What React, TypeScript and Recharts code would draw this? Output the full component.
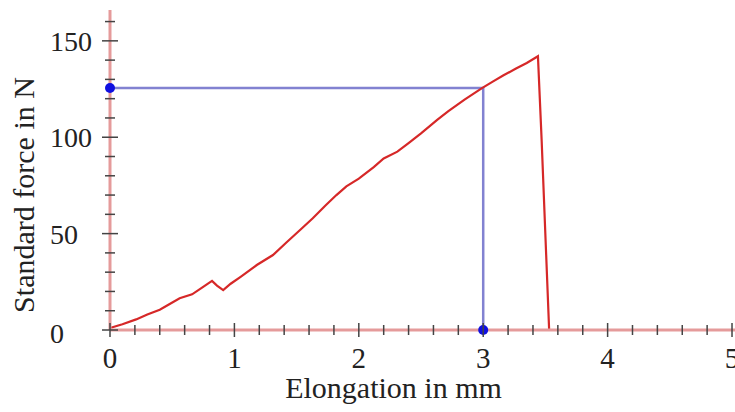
import {
  ComposedChart,
  Line,
  Scatter,
  XAxis,
  YAxis,
  ReferenceLine,
  Label,
} from "recharts";

// force / elongation curve
const elongation = [
  0, 0.1, 0.21, 0.3, 0.4, 0.48, 0.56, 0.66, 0.74, 0.82, 0.86, 0.91, 0.97, 1.05,
  1.18, 1.31, 1.42, 1.53, 1.63, 1.73, 1.82, 1.9, 2.0, 2.12, 2.2, 2.31, 2.4, 2.5,
  2.63, 2.72, 2.85, 2.99, 3.08, 3.16, 3.26, 3.35, 3.44, 3.47, 3.53,
];
const force = [
  1, 3, 5.5, 8, 10.5, 13.5, 16.5, 18.5, 22, 25.5, 23, 20.7, 24, 27.6, 33.7,
  38.9, 45.5, 52, 58, 64.5, 70, 74.5, 78.5, 84.5, 89, 92.5, 97, 102, 109, 113.5,
  119.5, 125.5, 129, 132, 135.5, 138.5, 142, 98, 0,
];

// marked reading (blue)
const markX = 3;
const markF = 125.5;

const xTicks = [
  0, 0.2, 0.4, 0.6, 0.8, 1, 1.2, 1.4, 1.6, 1.8, 2, 2.2, 2.4, 2.6, 2.8, 3, 3.2,
  3.4, 3.6, 3.8, 4, 4.2, 4.4, 4.6, 4.8, 5,
];
const yTicks = [
  0, 10, 20, 30, 40, 50, 60, 70, 80, 90, 100, 110, 120, 130, 140, 150, 160,
];
const xLabels = [0, 1, 2, 3, 4, 5];
const yLabels = [0, 50, 100, 150];

const curve = elongation.map((x, i) => ({ x, y: force[i] }));
const guide = [
  { x: 0, y: markF },
  { x: markX, y: markF },
  { x: markX, y: 0 },
];
const markers = [
  { x: 0, y: markF },
  { x: markX, y: 0 },
];

const font = "'Liberation Serif', 'Times New Roman', serif";

const XTick = (props: any) => {
  const { x, y, payload } = props;
  const v = payload.value;
  const major = xLabels.some((l) => Math.abs(l - v) < 1e-6);
  const h = major ? 7 : 5;
  return (
    <g>
      <line x1={x} x2={x} y1={y - h} y2={y + h} stroke="#444" strokeWidth={1.5} />
      {major && (
        <text x={x} y={y + 38} textAnchor="middle" fontFamily={font} fontSize={29} fill="#222">
          {Math.round(v)}
        </text>
      )}
    </g>
  );
};

const YTick = (props: any) => {
  const { x, y, payload } = props;
  const v = payload.value;
  const major = yLabels.includes(v);
  const w = major ? 8 : 5;
  return (
    <g>
      <line x1={x - w} x2={x + w} y1={y} y2={y} stroke="#444" strokeWidth={1.5} />
      {major && (
        <text
          x={x - 60}
          y={y + (v === 0 ? 13 : 10)}
          textAnchor="start"
          fontFamily={font}
          fontSize={28}
          fill="#222"
        >
          {v}
        </text>
      )}
    </g>
  );
};

const Dot = (props: any) => <circle cx={props.cx} cy={props.cy} r={5} fill="#1010e0" />;

export default function App() {
  return (
    <div style={{ position: "absolute", left: 0, top: 0, background: "#fff" }}>
      <ComposedChart
        width={735}
        height={412}
        margin={{ top: 10, right: 0, bottom: 0, left: 0 }}
      >
        <XAxis
          type="number"
          dataKey="x"
          domain={[0, 5.024]}
          ticks={xTicks}
          interval={0}
          tick={<XTick />}
          tickSize={0}
          tickMargin={0}
          tickLine={false}
          axisLine={{ stroke: "#e59b9b", strokeWidth: 3 }}
          height={82}
        >
          <Label
            content={({ viewBox }: any) => (
              <text
                x={viewBox.x + viewBox.width / 2 - 29}
                y={viewBox.y + 68}
                textAnchor="middle"
                fontFamily={font}
                fontSize={30}
                fill="#222"
              >
                Elongation in mm
              </text>
            )}
          />
        </XAxis>
        <YAxis
          type="number"
          dataKey="y"
          domain={[0, 166]}
          ticks={yTicks}
          interval={0}
          tick={<YTick />}
          tickSize={0}
          tickMargin={0}
          tickLine={false}
          axisLine={{ stroke: "#e59b9b", strokeWidth: 3 }}
          width={110}
        >
          <Label
            content={({ viewBox }: any) => {
              const cx = 34;
              const cy = viewBox.y + viewBox.height / 2 + 25;
              return (
                <text
                  x={cx}
                  y={cy}
                  transform={`rotate(-90 ${cx} ${cy})`}
                  textAnchor="middle"
                  fontFamily={font}
                  fontSize={30}
                  fill="#222"
                >
                  Standard force in N
                </text>
              );
            }}
          />
        </YAxis>
        <ReferenceLine y={0} stroke="#777" strokeWidth={1} strokeDasharray="3 9" />
        <ReferenceLine x={0} stroke="#777" strokeWidth={1} strokeDasharray="3 9" />
        <Line
          data={guide}
          dataKey="y"
          stroke="#7474cc"
          strokeWidth={2.5}
          strokeOpacity={0.9}
          dot={false}
          isAnimationActive={false}
        />
        <Line
          data={curve}
          dataKey="y"
          stroke="#d62828"
          strokeWidth={2.2}
          dot={false}
          isAnimationActive={false}
        />
        <Scatter data={markers} dataKey="y" shape={<Dot />} isAnimationActive={false} />
      </ComposedChart>
    </div>
  );
}
